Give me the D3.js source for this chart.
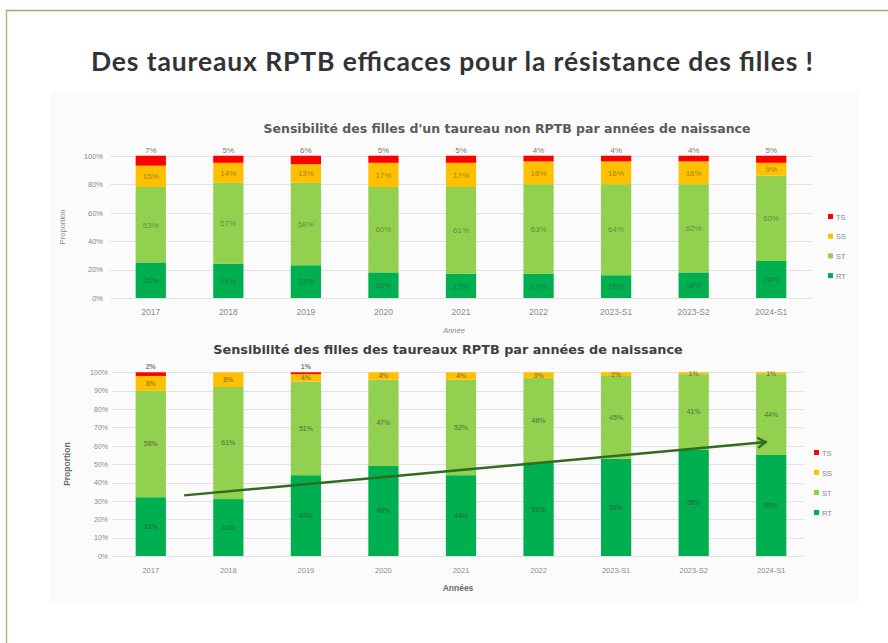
<!DOCTYPE html>
<html>
<head>
<meta charset="utf-8">
<script src="https://cdn.jsdelivr.net/npm/d3@7"></script>
<style>
  body { margin: 0; background: #fff; }
  svg { display: block; }
</style>
</head>
<body>
<svg id="chart" width="888" height="643"></svg>
<script>
// categories (années de naissance)
const years = ["2017", "2018", "2019", "2020", "2021", "2022", "2023-S1", "2023-S2", "2024-S1"];
const classes = ["RT", "ST", "SS", "TS"];
const legendOrder = ["TS", "SS", "ST", "RT"];
const classColors = { RT: "#00b050", ST: "#92d050", SS: "#ffc000", TS: "#ff0000" };

// filles d'un taureau non RPTB (%)
const nonRT = [25, 24, 23, 18, 17, 17, 16, 18, 26];
const nonST = [53, 57, 58, 60, 61, 63, 64, 62, 60];
const nonSS = [15, 14, 13, 17, 17, 16, 16, 16, 9];
const nonTS = [7, 5, 6, 5, 5, 4, 4, 4, 5];

// filles des taureaux RPTB (%)
const rptbRT = [32, 31, 44, 49, 44, 51, 53, 58, 55];
const rptbST = [58, 61, 51, 47, 52, 46, 45, 41, 44];
const rptbSS = [8, 8, 4, 4, 4, 3, 2, 1, 1];
const rptbTS = [2, 0, 1, 0, 0, 0, 0, 0, 0];

// tick values
const topTicks = [0, 20, 40, 60, 80, 100];
const bottomTicks = [0, 10, 20, 30, 40, 50, 60, 70, 80, 90, 100];

// trend arrow on the RPTB chart (category, offset in steps, value %)
const trendArrow = [
  { cat: "2017", offset: 0.43, value: 33 },
  { cat: "2024-S1", offset: -0.07, value: 62 }
];

const svg = d3.select("#chart");

// golden frame
svg.append("line").attr("x1", 6).attr("x2", 888).attr("y1", 10.5).attr("y2", 10.5)
  .attr("stroke", "#b59a6a").attr("stroke-width", 1.5);
svg.append("line").attr("x1", 6.5).attr("x2", 6.5).attr("y1", 10).attr("y2", 643)
  .attr("stroke", "#c2ab80").attr("stroke-width", 1.5);

svg.append("text")
  .attr("x", 452).attr("y", 71)
  .attr("text-anchor", "middle")
  .attr("font-family", "Lato, 'Open Sans', sans-serif")
  .attr("font-weight", 700)
  .attr("font-size", 26.5)
  .attr("textLength", 722)
  .attr("lengthAdjust", "spacing")
  .attr("fill", "#333333")
  .text("Des taureaux RPTB efficaces pour la résistance des filles !");

// light panel behind the two charts
svg.append("rect").attr("x", 50).attr("y", 91).attr("width", 808).attr("height", 512)
  .attr("fill", "#fbfbfb");

function rows(rt, st, ss, ts) {
  return years.map((y, i) => ({ year: y, RT: rt[i], ST: st[i], SS: ss[i], TS: ts[i] }));
}

function drawChart(cfg) {
  const g = svg.append("g");
  const data = rows(...cfg.series);

  const x = d3.scaleBand().domain(years).range(cfg.xRange).paddingInner(0.61).paddingOuter(0.305);
  const y = d3.scaleLinear().domain([0, 100]).range(cfg.yRange);

  // gridlines
  g.append("g").selectAll("line").data(cfg.ticks).join("line")
    .attr("x1", cfg.gridX[0]).attr("x2", cfg.gridX[1])
    .attr("y1", d => Math.round(y(d)) + 0.5).attr("y2", d => Math.round(y(d)) + 0.5)
    .attr("stroke", "#e2e2e2").attr("stroke-width", 1);

  // y axis labels
  const yAxis = d3.axisLeft(y).tickValues(cfg.ticks).tickFormat(d => d + "%").tickSize(0).tickPadding(0);
  g.append("g").attr("transform", `translate(${cfg.yLabelX},0)`).call(yAxis)
    .call(a => a.select(".domain").remove())
    .selectAll("text")
    .attr("font-family", "'Liberation Sans', Arial, sans-serif")
    .attr("font-size", cfg.tickSize).attr("fill", "#8a8a8a");

  // x axis labels
  const xAxis = d3.axisBottom(x).tickSize(0).tickPadding(0);
  g.append("g").attr("transform", `translate(0,${cfg.xLabelY})`).call(xAxis)
    .call(a => a.select(".domain").remove())
    .selectAll("text")
    .attr("font-family", "'Liberation Sans', Arial, sans-serif")
    .attr("font-size", cfg.xTickSize).attr("fill", "#8a8a8a");

  // stacked bars
  const stack = d3.stack().keys(classes)(data);
  const layers = g.append("g").selectAll("g").data(stack).join("g")
    .attr("fill", d => classColors[d.key]);
  layers.selectAll("rect").data(d => d).join("rect")
    .attr("x", d => x(d.data.year))
    .attr("width", x.bandwidth())
    .attr("y", d => y(d[1]))
    .attr("height", d => y(d[0]) - y(d[1]));

  // value labels
  stack.forEach(layer => {
    const outside = layer.key === "TS";
    g.append("g").selectAll("text").data(layer.filter(d => d[1] - d[0] > 0)).join("text")
      .attr("x", d => x(d.data.year) + x.bandwidth() / 2)
      .attr("y", d => outside ? y(100) - 3 : (y(d[0]) + y(d[1])) / 2 + cfg.labelSize * 0.35)
      .attr("text-anchor", "middle")
      .attr("font-family", "'Liberation Sans', Arial, sans-serif")
      .attr("font-size", cfg.labelSize)
      .attr("font-weight", cfg.labelWeight)
      .attr("fill", outside ? "#7a7a7a" : "#3a3a3a")
      .attr("fill-opacity", outside ? 1 : 0.5)
      .text(d => (d[1] - d[0]) + "%");
  });

  // chart title
  g.append("text")
    .attr("x", cfg.titleX).attr("y", cfg.titleY)
    .attr("text-anchor", "middle")
    .attr("font-family", "'DejaVu Sans', sans-serif")
    .attr("font-weight", 700)
    .attr("font-size", cfg.titleSize)
    .attr("fill", cfg.titleColor)
    .text(cfg.title);

  // axis titles
  g.append("text")
    .attr("transform", `translate(${cfg.yTitleX},${(cfg.yRange[0] + cfg.yRange[1]) / 2}) rotate(-90)`)
    .attr("text-anchor", "middle")
    .attr("font-family", "'Liberation Sans', Arial, sans-serif")
    .attr("font-size", cfg.axisTitleSize)
    .attr("font-weight", cfg.axisTitleWeight)
    .attr("fill", cfg.axisTitleColor)
    .text("Proportion");
  g.append("text")
    .attr("x", cfg.xTitleX).attr("y", cfg.xTitleY)
    .attr("text-anchor", "middle")
    .attr("font-family", "'Liberation Sans', Arial, sans-serif")
    .attr("font-size", cfg.axisTitleSize)
    .attr("font-weight", cfg.axisTitleWeight)
    .attr("font-style", cfg.xTitleStyle)
    .attr("fill", cfg.axisTitleColor)
    .text(cfg.xTitle);

  // legend
  const leg = g.append("g").selectAll("g").data(legendOrder).join("g")
    .attr("transform", (d, i) => `translate(${cfg.legendX},${cfg.legendY + i * cfg.legendStep})`);
  leg.append("rect").attr("x", 0).attr("y", -3).attr("width", 5).attr("height", 5)
    .attr("fill", d => classColors[d]);
  leg.append("text").attr("x", 8).attr("y", 2.5)
    .attr("font-family", "'Liberation Sans', Arial, sans-serif")
    .attr("font-size", 7.5).attr("fill", "#8a8a8a")
    .text(d => d);

  return { x, y };
}

drawChart({
  series: [nonRT, nonST, nonSS, nonTS],
  xRange: [112, 810], yRange: [298, 155.7], ticks: topTicks,
  gridX: [110, 812], yLabelX: 103, tickSize: 7.5, xLabelY: 309, xTickSize: 8.5,
  labelSize: 8, labelWeight: 400,
  title: "Sensibilité des filles d'un taureau non RPTB par années de naissance",
  titleX: 507, titleY: 133, titleSize: 12.5, titleColor: "#5a5a5a",
  yTitleX: 65, xTitle: "Année", xTitleX: 454, xTitleY: 333, xTitleStyle: "italic",
  axisTitleSize: 7.5, axisTitleWeight: 400, axisTitleColor: "#8a8a8a",
  legendX: 828, legendY: 217, legendStep: 19.7
});

const bottom = drawChart({
  series: [rptbRT, rptbST, rptbSS, rptbTS],
  xRange: [112, 810], yRange: [556, 372.3], ticks: bottomTicks,
  gridX: [112, 803], yLabelX: 108, tickSize: 7, xLabelY: 568, xTickSize: 7.5,
  labelSize: 7, labelWeight: 700,
  title: "Sensibilité des filles des taureaux RPTB par années de naissance",
  titleX: 448, titleY: 354, titleSize: 12.8, titleColor: "#404040",
  yTitleX: 70, xTitle: "Années", xTitleX: 458, xTitleY: 591, xTitleStyle: "normal",
  axisTitleSize: 8.5, axisTitleWeight: 700, axisTitleColor: "#6a6a6a",
  legendX: 814, legendY: 453, legendStep: 20
});

// trend arrow
const bx = bottom.x, by = bottom.y;
const step = bx.step();
const pts = trendArrow.map(p => [bx(p.cat) + bx.bandwidth() / 2 + p.offset * step, by(p.value)]);

svg.append("defs").append("marker")
  .attr("id", "arrowHead")
  .attr("viewBox", "0 0 12 12")
  .attr("refX", 10).attr("refY", 6)
  .attr("markerWidth", 12).attr("markerHeight", 12)
  .attr("markerUnits", "userSpaceOnUse")
  .attr("orient", "auto")
  .append("path")
  .attr("d", "M2,1 L10,6 L2,11")
  .attr("fill", "none")
  .attr("stroke", "#2f6b20")
  .attr("stroke-width", 2.2);

svg.append("line")
  .attr("x1", pts[0][0]).attr("y1", pts[0][1])
  .attr("x2", pts[1][0]).attr("y2", pts[1][1])
  .attr("stroke", "#2f6b20")
  .attr("stroke-width", 2.5)
  .attr("marker-end", "url(#arrowHead)");
</script>
</body>
</html>
